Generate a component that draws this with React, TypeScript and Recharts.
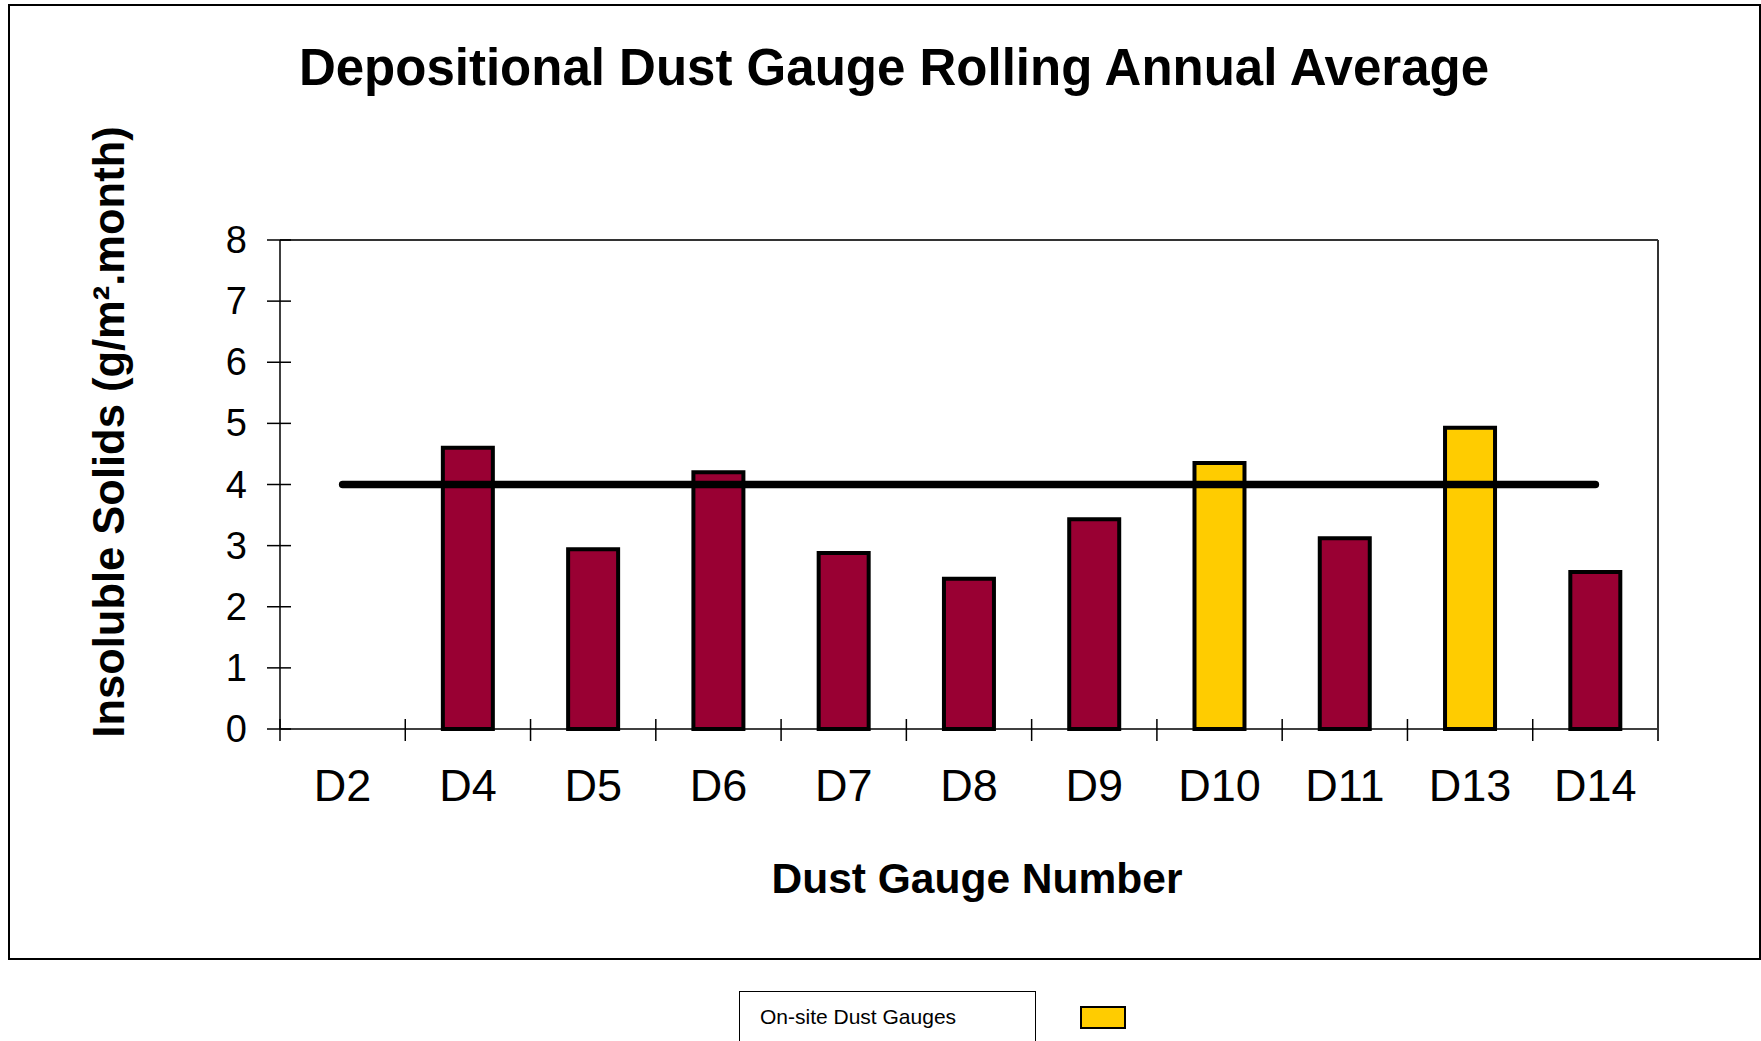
import React from "react"
import { ComposedChart, Bar, Line, XAxis, YAxis, Cell, ReferenceLine } from "recharts"

const gauges = ["D2", "D4", "D5", "D6", "D7", "D8", "D9", "D10", "D11", "D13", "D14"]
const averages = [null, 4.6, 2.94, 4.2, 2.88, 2.46, 3.43, 4.35, 3.12, 4.93, 2.57]
const onSite = [false, false, false, false, false, false, false, true, false, true, false]
const guideline = [4, 4, 4, 4, 4, 4, 4, 4, 4, 4, 4]
const yTicks = [0, 1, 2, 3, 4, 5, 6, 7, 8]
const yMax = 8

const FONT = '"Liberation Sans", Arial, sans-serif'
const MAROON = "#990033"
const YELLOW = "#FFCC00"

const W = 1761
const H = 1041
const PLOT_LEFT = 280
const PLOT_RIGHT = 1658
const PLOT_TOP = 240
const PLOT_BOTTOM = 729
const BAND = (PLOT_RIGHT - PLOT_LEFT) / gauges.length

const data = gauges.map((name, i) => ({
  name,
  value: averages[i],
  limit: guideline[i],
  onSite: onSite[i],
}))

// category ticks sit on the band edges; the last one also closes the plot frame on the right
function GaugeTick(props: any) {
  const { x, y, payload, index } = props
  const left = x - BAND / 2
  const right = x + BAND / 2
  return (
    <g>
      <line x1={left} x2={left} y1={y - 10} y2={y + 12} stroke="#000" strokeWidth={1.5} />
      {index === gauges.length - 1 && (
        <line x1={right} x2={right} y1={y - (PLOT_BOTTOM - PLOT_TOP)} y2={y + 12} stroke="#333" strokeWidth={2} />
      )}
      <text x={x} y={y + 72} textAnchor="middle" fontSize={45} fontFamily={FONT} fill="#000">
        {payload.value}
      </text>
    </g>
  )
}

function ValueTick(props: any) {
  const { x, y, payload } = props
  return (
    <g>
      <line x1={x - 13} x2={x + 11} y1={y} y2={y} stroke="#000" strokeWidth={1.5} />
      <text x={x - 33} y={y + 13} textAnchor="end" fontSize={38} fontFamily={FONT} fill="#000">
        {payload.value}
      </text>
    </g>
  )
}

export default function App() {
  return (
    <div style={{ position: "fixed", left: 0, top: 0, width: W, height: H, overflow: "hidden", background: "#fff", fontFamily: FONT }}>
      <div
        style={{
          position: "absolute",
          left: 8,
          top: 4,
          width: 1753,
          height: 956,
          border: "2px solid #000",
          boxSizing: "border-box",
        }}
      />
      <div style={{ position: "absolute", left: 0, top: 0 }}>
        <ComposedChart
          width={W}
          height={H}
          data={data}
          barCategoryGap="30%"
          margin={{ top: PLOT_TOP, right: W - PLOT_RIGHT, bottom: H - PLOT_BOTTOM - 60, left: PLOT_LEFT - 80 }}
        >
          <XAxis
            dataKey="name"
            interval={0}
            height={60}
            tickSize={0}
            tickMargin={0}
            tickLine={false}
            axisLine={{ stroke: "#000", strokeWidth: 1.5 }}
            tick={<GaugeTick />}
          />
          <YAxis
            domain={[0, yMax]}
            ticks={yTicks}
            width={80}
            tickSize={0}
            tickMargin={0}
            tickLine={false}
            axisLine={{ stroke: "#000", strokeWidth: 1.5 }}
            tick={<ValueTick />}
          />
          <ReferenceLine y={yMax} stroke="#333" strokeWidth={2} />
          <Bar dataKey="value" stroke="#000" strokeWidth={4} isAnimationActive={false}>
            {data.map((d) => (
              <Cell key={d.name} fill={d.onSite ? YELLOW : MAROON} />
            ))}
          </Bar>
          <Line
            dataKey="limit"
            stroke="#000"
            strokeWidth={7.5}
            strokeLinecap="round"
            dot={false}
            activeDot={false}
            isAnimationActive={false}
          />
        </ComposedChart>
      </div>
      <svg width={W} height={H} style={{ position: "absolute", left: 0, top: 0, pointerEvents: "none" }}>
        <text x={894} y={85} textAnchor="middle" fontSize={51} fontWeight="bold" fontFamily={FONT} fill="#000">
          Depositional Dust Gauge Rolling Annual Average
        </text>
        <text x={977} y={893} textAnchor="middle" fontSize={42.5} fontWeight="bold" fontFamily={FONT} fill="#000">
          Dust Gauge Number
        </text>
        <text
          x={124}
          y={432}
          transform="rotate(-90 124 432)"
          textAnchor="middle"
          fontSize={43.5}
          fontWeight="bold"
          fontFamily={FONT}
          fill="#000"
        >
          Insoluble Solids (g/m².month)
        </text>
      </svg>
      <div
        style={{
          position: "absolute",
          left: 739,
          top: 991,
          width: 297,
          height: 70,
          border: "1.5px solid #000",
          boxSizing: "border-box",
          fontSize: 21,
          paddingLeft: 20,
          paddingTop: 13,
          color: "#000",
        }}
      >
        On-site Dust Gauges
      </div>
      <div
        style={{
          position: "absolute",
          left: 1080,
          top: 1006,
          width: 46,
          height: 23,
          background: YELLOW,
          border: "2px solid #000",
          boxSizing: "border-box",
        }}
      />
    </div>
  )
}
